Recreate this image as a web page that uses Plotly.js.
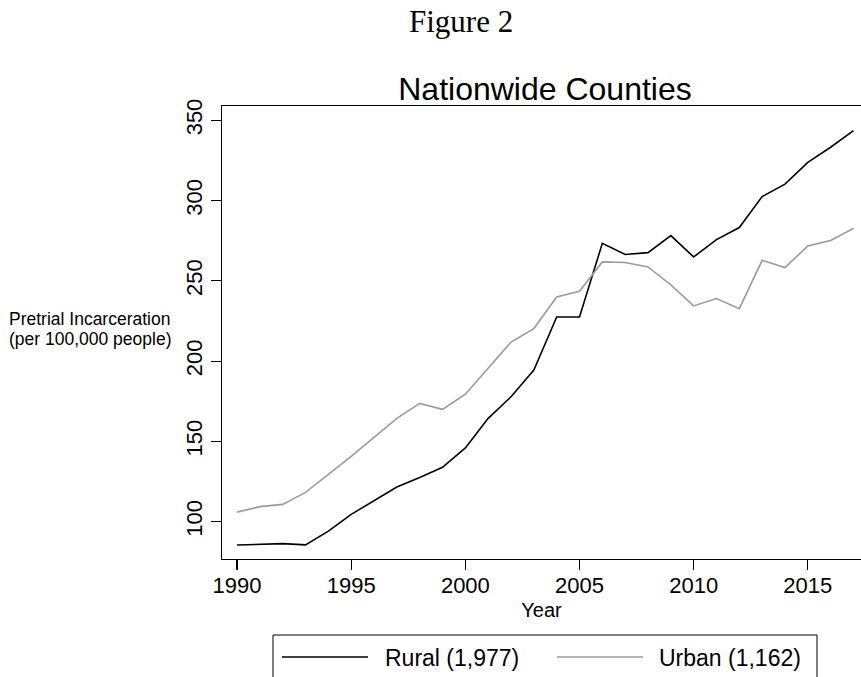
<!DOCTYPE html>
<html>
<head>
<meta charset="utf-8">
<script src="https://cdn.plot.ly/plotly-3.0.1.min.js"></script>
<style>html,body{margin:0;padding:0;background:#fff;}#chart{width:861px;height:677px;}</style>
</head>
<body>
<div id="chart"></div>
<script>
const years = [1990,1991,1992,1993,1994,1995,1996,1997,1998,1999,2000,2001,2002,2003,2004,2005,2006,2007,2008,2009,2010,2011,2012,2013,2014,2015,2016,2017];
const rural = [85.5,85.9,86.4,85.6,94.2,104.6,113.0,121.6,127.6,133.9,146.0,164.4,177.8,194.5,227.5,227.5,273.4,266.4,267.6,278.2,264.9,275.7,283.2,302.5,310.2,323.8,333.2,343.6];
const urban = [106.0,109.4,110.8,118.3,129.5,140.7,152.5,164.4,173.7,170.0,179.4,195.5,211.9,220.3,240.0,243.5,261.8,261.4,258.7,247.5,234.4,239.0,232.7,262.8,258.3,271.7,275.1,282.6];
const seriesNames = ["Rural (1,977)", "Urban (1,162)"];
const xTicks = [1990,1995,2000,2005,2010,2015];
const yTicks = [100,150,200,250,300,350];

const sans = "Liberation Sans, Arial, Helvetica, sans-serif";
const L = 222, T = 106, B = 559, W = 861, H = 677;
const ph = B - T, pw = W - L;
const py = p => (B - p) / ph;
const px = p => (p - L) / pw;

const traces = [
  {x: years, y: rural, type: "scatter", mode: "lines", name: seriesNames[0],
   line: {color: "#000000", width: 1.6}, showlegend: false},
  {x: years, y: urban, type: "scatter", mode: "lines", name: seriesNames[1],
   line: {color: "#9b9b9b", width: 1.6}, showlegend: false}
];

const layout = {
  width: W, height: H,
  margin: {l: L, r: 0, t: T, b: H - B, pad: 0},
  paper_bgcolor: "#ffffff", plot_bgcolor: "#ffffff",
  font: {family: sans, color: "#000"},
  title: {text: "Nationwide Counties", font: {family: sans, size: 32, color: "#000"},
          x: px(545), xref: "paper", xanchor: "center", y: 1 - 89/H, yref: "container", yanchor: "middle"},
  xaxis: {range: [1989.34, 2017.33], tickvals: xTicks, ticktext: xTicks.map(String),
          ticks: "outside", ticklen: 10, tickwidth: 1.2, tickcolor: "#000", ticklabelstandoff: -4,
          showline: true, linecolor: "#000", linewidth: 1.4, mirror: true,
          showgrid: false, zeroline: false, tickfont: {size: 22, family: sans},
          title: {text: "Year", font: {size: 20, family: sans}, standoff: 6}},
  yaxis: {range: [76.8, 358.9], tickvals: yTicks, ticktext: yTicks.map(String),
          ticks: "outside", ticklen: 10, tickwidth: 1.2, tickcolor: "#000", tickangle: -90,
          showline: true, linecolor: "#000", linewidth: 1.4,
          showgrid: false, zeroline: false, tickfont: {size: 22, family: sans}},
  shapes: [
    {type: "rect", xref: "paper", yref: "paper", x0: px(273), x1: px(817), y0: py(635), y1: py(700),
     line: {color: "#000", width: 1}, fillcolor: "rgba(0,0,0,0)"},
    {type: "line", xref: "paper", yref: "paper", x0: px(282), x1: px(368), y0: py(657), y1: py(657),
     line: {color: "#000000", width: 1.6}},
    {type: "line", xref: "paper", yref: "paper", x0: px(557), x1: px(643), y0: py(657), y1: py(657),
     line: {color: "#9b9b9b", width: 1.6}}
  ],
  annotations: [
    {text: "Figure 2", xref: "paper", yref: "paper", x: px(461), y: py(22), xanchor: "center", yanchor: "middle",
     showarrow: false, font: {family: "Liberation Serif, Times New Roman, serif", size: 31, color: "#000"}},
    {text: "Pretrial Incarceration", xref: "paper", yref: "paper", x: px(7), y: py(319),
     xanchor: "left", yanchor: "middle", align: "left", showarrow: false,
     font: {family: sans, size: 17.5, color: "#000"}},
    {text: "(per 100,000 people)", xref: "paper", yref: "paper", x: px(7), y: py(339),
     xanchor: "left", yanchor: "middle", align: "left", showarrow: false,
     font: {family: sans, size: 17.5, color: "#000"}},
    {text: seriesNames[0], xref: "paper", yref: "paper", x: px(383), y: py(658), xanchor: "left", yanchor: "middle",
     showarrow: false, font: {family: sans, size: 23, color: "#000"}},
    {text: seriesNames[1], xref: "paper", yref: "paper", x: px(657), y: py(658), xanchor: "left", yanchor: "middle",
     showarrow: false, font: {family: sans, size: 23, color: "#000"}}
  ]
};

Plotly.newPlot("chart", traces, layout, {displayModeBar: false, staticPlot: true});
</script>
</body>
</html>
